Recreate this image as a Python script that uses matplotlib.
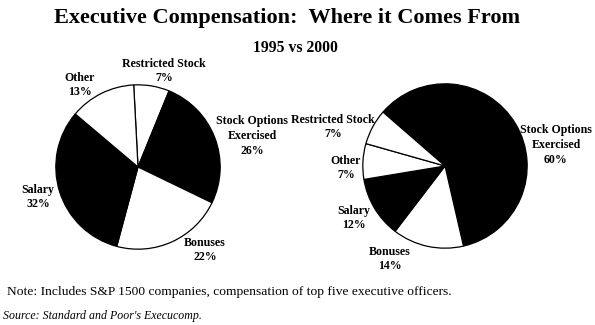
import matplotlib
matplotlib.use("Agg")
import matplotlib.pyplot as plt

# Data
left_labels = ["Restricted Stock", "Stock Options\nExercised", "Bonuses", "Salary", "Other"]
left_values = [7, 26, 22, 32, 13]
right_labels = ["Stock Options\nExercised", "Bonuses", "Salary", "Other", "Restricted Stock"]
right_values = [60, 14, 12, 7, 7]

W, H = 595, 325
fig = plt.figure(figsize=(W / 100, H / 100), dpi=100)
fig.patch.set_facecolor("white")
SERIF = ["Liberation Serif", "DejaVu Serif"]


def px(x, y):
    return x / W, 1 - y / H


def draw_pie(cx, cy, r, values, colors, start):
    ax = fig.add_axes([(cx - r) / W, (H - cy - r) / H, 2 * r / W, 2 * r / H])
    ax.pie(values, colors=colors, startangle=start, counterclock=False,
           wedgeprops=dict(edgecolor="black", linewidth=0.9))
    ax.set_xlim(-1.01, 1.01)
    ax.set_ylim(-1.01, 1.01)
    ax.set_aspect("equal")
    ax.axis("off")
    return ax


# 1995 pie
draw_pie(138, 167, 83, left_values,
         ["white", "black", "white", "black", "white"], 93)
# 2000 pie
draw_pie(445, 166, 83, right_values,
         ["black", "white", "black", "white", "white"], 139)

# Slice labels: name and share, centred at the given pixel positions
left_pos = [(164, 71), (252, 136), (205, 250), (38, 197), (80, 85)]
right_pos = [(556, 145), (390, 259), (354, 218), (346, 168), (333, 127)]
for names, vals, pos in ((left_labels, left_values, left_pos),
                         (right_labels, right_values, right_pos)):
    for name, v, (x, y) in zip(names, vals, pos):
        fig.text(*px(x, y), f"{name}\n{v}%", ha="center", va="center",
                 family=SERIF, fontweight="bold", fontsize=8.6,
                 linespacing=1.3)

fig.text(*px(287, 18), "Executive Compensation:  Where it Comes From",
         ha="center", va="center", family=SERIF, fontweight="bold", fontsize=16)
fig.text(*px(295, 48), "1995 vs 2000", ha="center", va="center",
         family=SERIF, fontweight="bold", fontsize=11.3)
fig.text(*px(7, 292), "Note: Includes S&P 1500 companies, compensation of top five executive officers.",
         ha="left", va="center", family=SERIF, fontsize=9.7)
fig.text(*px(3, 316), "Source: Standard and Poor's Execucomp.",
         ha="left", va="center", family=SERIF, fontsize=8.6, style="italic")

fig.savefig("out.png", dpi=100, facecolor="white")
